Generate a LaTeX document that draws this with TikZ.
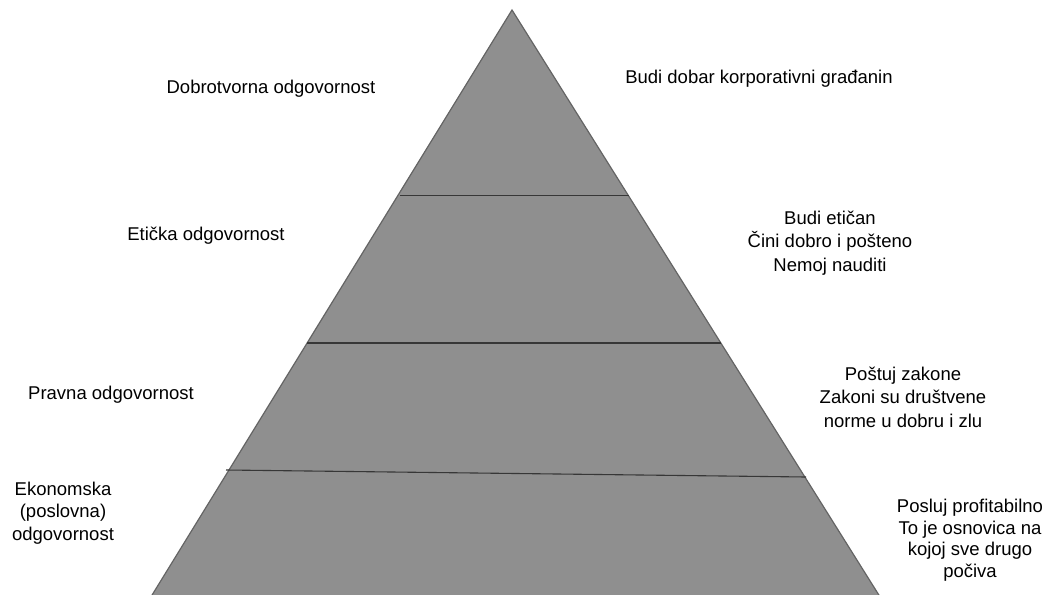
\documentclass[tikz,border=0pt]{standalone}
\usepackage{fontspec}
\setmainfont{Liberation Sans}
\definecolor{pyrfill}{RGB}{143,143,143}
\definecolor{pyredge}{RGB}{100,100,100}
\definecolor{divline}{RGB}{55,55,55}
\begin{document}
\begin{tikzpicture}[x=1pt,y=-1pt,
  lbl/.style={font=\fontsize{18.5}{23.5}\selectfont, align=center, inner sep=0pt, text=black},
  pyr/.style={fill=pyrfill, draw=pyredge, line width=1.2pt, line join=miter},
  divl/.style={draw=divline, line width=1.1pt}]
\useasboundingbox (0,0) rectangle (1051,594);
\clip (0,0) rectangle (1051,594);
\coordinate (apex) at (512,10);
\coordinate (bl) at (149,600);
\coordinate (br) at (882,600);
\path[pyr] (apex) -- (br) -- (bl) -- cycle;
\coordinate (l1a) at (400,195.5);
\coordinate (l1b) at (629,195.5);
\coordinate (l2a) at (307,343);
\coordinate (l2b) at (721,343);
\coordinate (l3a) at (226,470);
\coordinate (l3b) at (806,477);
\draw[divl] (l1a) -- (l1b);
\draw[divl] (l2a) -- (l2b);
\draw[divl] (l3a) -- (l3b);
\node[lbl] (t1) at (271,89) {Dobrotvorna odgovornost};
\node[lbl] (t2) at (206,236) {Etička odgovornost};
\node[lbl] (t3) at (111,395) {Pravna odgovornost};
\node[lbl, font=\fontsize{18.5}{22.5}\selectfont] (t4) at (63,513) {Ekonomska\\(poslovna)\\odgovornost};
\node[lbl] (r1) at (759,79) {Budi dobar korporativni građanin};
\node[lbl] (r2) at (830,243) {Budi etičan\\Čini dobro i pošteno\\Nemoj nauditi};
\node[lbl] (r3) at (903,397) {Poštuj zakone\\Zakoni su društvene\\norme u dobru i zlu};
\node[lbl, font=\fontsize{18.5}{21.5}\selectfont, anchor=north] (r4) at (970,499) {Posluj profitabilno\\To je osnovica na\\kojoj sve drugo\\počiva};
\end{tikzpicture}
\end{document}
